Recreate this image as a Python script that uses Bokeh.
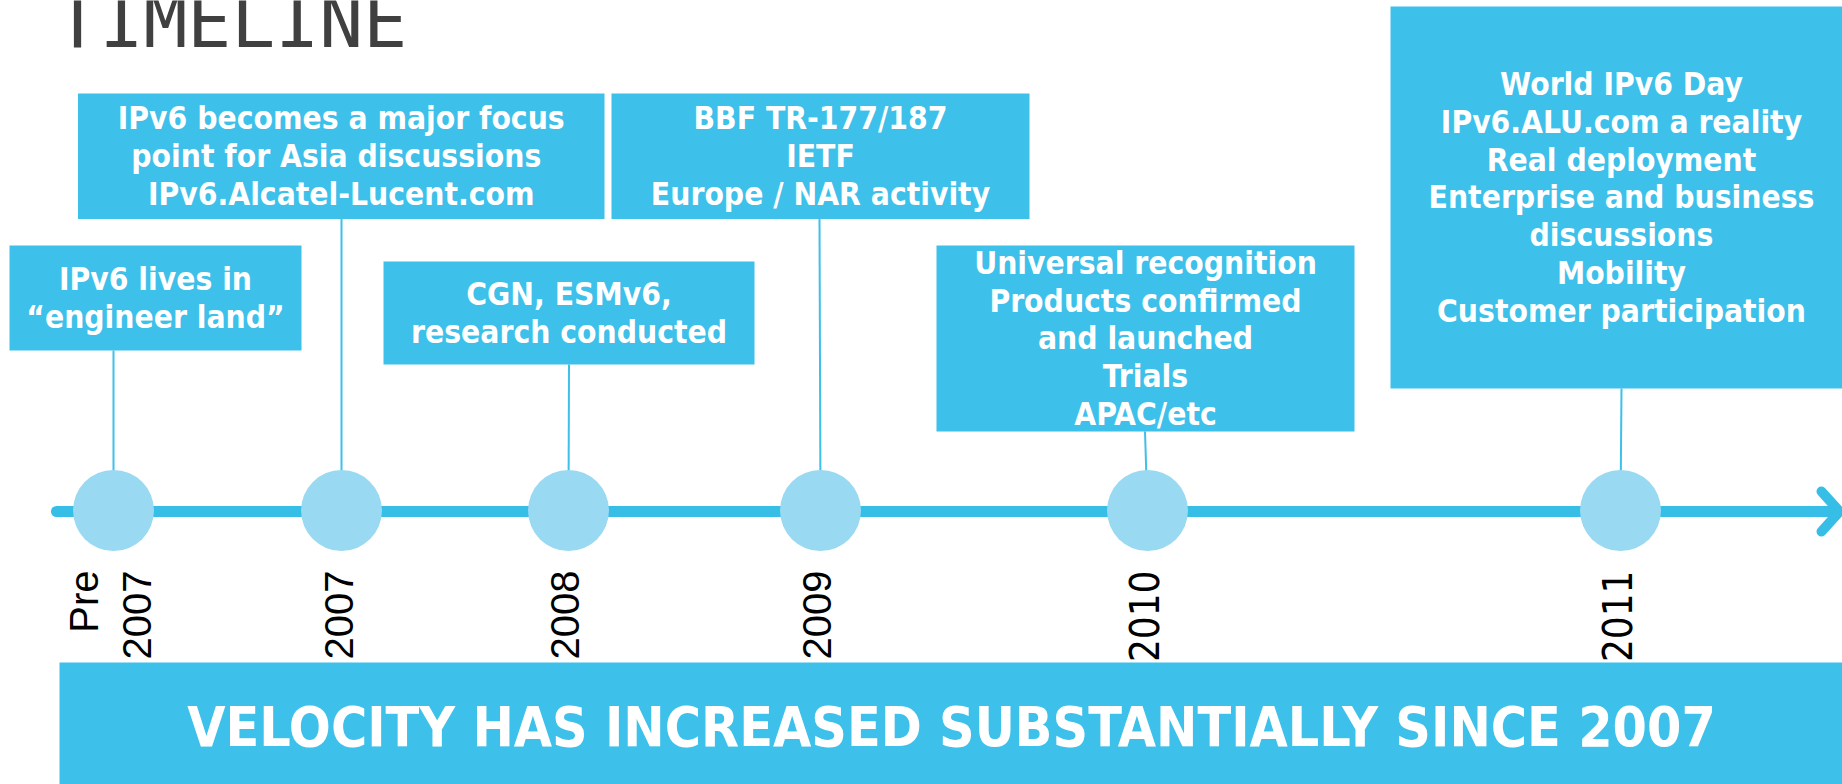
import math
from bokeh.plotting import figure
from bokeh.models import Range1d, ColumnDataSource
from bokeh.embed import file_html
from bokeh.resources import INLINE
from bokeh.core.properties import value

# ---------------- data ----------------
title = "TIMELINE"
periods = ["Pre\n2007", "2007", "2008", "2009", "2010", "2011"]
period_fonts = ["Liberation Sans", "Liberation Sans", "Liberation Sans",
                "Liberation Sans", "DejaVu Sans Condensed", "DejaVu Sans Condensed"]
milestones = [
    "IPv6 lives in\n\u201cengineer land\u201d",
    "IPv6 becomes a major focus\npoint  for Asia discussions\nIPv6.Alcatel-Lucent.com",
    "CGN, ESMv6,\nresearch conducted",
    "BBF TR-177/187\nIETF\nEurope / NAR activity",
    "Universal recognition\nProducts confirmed\nand launched\nTrials\nAPAC/etc",
    "World IPv6 Day\nIPv6.ALU.com a reality\nReal deployment\nEnterprise and business\ndiscussions\nMobility\nCustomer participation",
]
banner = "VELOCITY HAS INCREASED SUBSTANTIALLY SINCE 2007"

# ---------------- layout (page pixels) ----------------
node_x = [113, 341, 568, 820, 1147, 1620]
node_y = 510
label_x = [110, 338, 564, 816, 1143, 1616]
box_left = [9, 77.5, 383, 611, 936, 1390]
box_right = [301, 604, 754, 1029, 1354, 1852]
box_top = [245, 93, 261, 93, 245, 6]
box_bottom = [350, 218.5, 364, 218.5, 431, 388]
link_top_x = [113, 341, 568.5, 819, 1144.5, 1621]

BOX = "#3DC0E9"
NODE = "#99D9F2"
LINE = "#37BEE7"

W, H = 1842, 784
p = figure(width=W, height=H, x_range=Range1d(0, W), y_range=Range1d(H, 0),
           output_backend="svg", toolbar_location=None,
           x_axis_location=None, y_axis_location=None, min_border=0,
           outline_line_color=None, background_fill_color="white",
           border_fill_color="white")
p.grid.visible = False

# title
p.text(x=[55], y=[21], text=[title], text_font=value("DejaVu Sans Mono"),
       text_font_size="73px", text_color="#404040", text_align="left",
       text_baseline="alphabetic")

# boxes
bsrc = ColumnDataSource(dict(
    left=box_left, right=box_right, top=box_top, bottom=box_bottom,
    cx=[(l + r) / 2 for l, r in zip(box_left, box_right)],
    cy=[(t + b) / 2 for t, b in zip(box_top, box_bottom)],
    text=milestones, lx=link_top_x, nx=node_x, ny=[node_y] * len(node_x),
))
p.segment(x0="lx", y0="bottom", x1="nx", y1="ny", source=bsrc,
          line_color=BOX, line_width=2)
p.quad(left="left", right="right", top="top", bottom="bottom", source=bsrc,
       fill_color=BOX, line_color=None)
p.text(x="cx", y="cy", text="text", source=bsrc, text_color="white",
       text_font=value("DejaVu Sans Condensed"), text_font_style="bold",
       text_font_size="31.5px", text_align="center", text_baseline="middle",
       text_line_height=1.055)

# timeline axis with arrow
p.line(x=[56, node_x[-1] + 215], y=[511, 511], line_color=LINE, line_width=11,
       line_cap="round")
ax = node_x[-1] + 219
p.line(x=[ax - 18, ax, ax - 18], y=[491, 511, 531], line_color=LINE, line_width=10,
       line_cap="round", line_join="round")

# nodes
nsrc = ColumnDataSource(dict(x=node_x, y=[node_y] * len(node_x)))
p.circle(x="x", y="y", radius=40.5, source=nsrc, fill_color=NODE, line_color=None)

# period labels (rotated)
lsrc = ColumnDataSource(dict(x=label_x, y=[570] * len(label_x), text=periods,
                             font=period_fonts))
p.text(x="x", y="y", text="text", source=lsrc, angle=math.pi / 2,
       text_font="font", text_font_size="40px", text_color="black",
       text_align="right", text_baseline="middle", text_line_height=1.2)

# banner
p.quad(left=[59], right=[1860], top=[662], bottom=[800], fill_color=BOX, line_color=None)
p.text(x=[951], y=[726], text=[banner], text_color="white",
       text_font=value("DejaVu Sans Condensed"), text_font_style="bold",
       text_font_size="55px", text_align="center", text_baseline="alphabetic")

open("out.html", "w").write(file_html(p, INLINE))
